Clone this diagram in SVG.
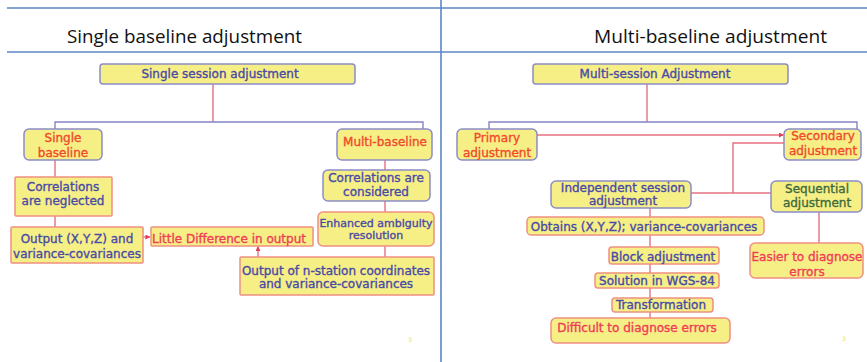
<svg xmlns="http://www.w3.org/2000/svg" width="867" height="362" viewBox="0 0 867 362">
  <defs>
    <marker id="arrow" viewBox="0 0 6 6" refX="5.5" refY="3" markerWidth="5" markerHeight="5" orient="auto" markerUnits="userSpaceOnUse">
      <path d="M0,0 L6,3 L0,6 Z" fill="#e0405a"/>
    </marker>
  </defs>
  <style>
    .rule { stroke: #5b86c4; stroke-width: 1.6; fill: none; }
    .title { font-family: "Open Sans", "Liberation Sans", sans-serif; font-size: 19px; fill: #111; }
    .box { fill: #f6ef86; stroke-width: 1.5; }
    .bb { stroke: #8c8cc8; }
    .rb { stroke: #f09080; }
    .t { font-family: "DejaVu Sans", Verdana, sans-serif; font-size: 12px; text-anchor: middle; stroke-width: 0.35; }
    .blue { fill: #4a4aa6; stroke: #4a4aa6; }
    .red { fill: #f04a2c; stroke: #f04a2c; }
    .pink { fill: #f03c58; stroke: #f03c58; }
    .green { fill: #3c6a3c; stroke: #3c6a3c; }
    .link { stroke: #e67080; stroke-width: 1.4; fill: none; }
    .bus { stroke: #8484c8; stroke-width: 1.4; fill: none; }
    .pg { font-family: "DejaVu Sans", sans-serif; font-size: 6px; fill: #e6df6a; }
  </style>

  <rect width="867" height="362" fill="#ffffff"/>

  <!-- page frame rules -->
  <g id="frame">
    <line class="rule" x1="7" y1="8" x2="867" y2="8"/>
    <line class="rule" x1="7" y1="52" x2="867" y2="52"/>
    <line class="rule" x1="441" y1="0" x2="441" y2="362"/>
  </g>

  <text class="title" x="67" y="42.5" textLength="235" lengthAdjust="spacingAndGlyphs">Single baseline adjustment</text>
  <text class="title" x="594" y="43" textLength="233" lengthAdjust="spacingAndGlyphs">Multi-baseline adjustment</text>

  <!-- connectors -->
  <g id="connectors">
    <!-- left tree -->
    <line class="link" x1="213" y1="84" x2="213" y2="122"/>
    <polyline class="bus" points="55,129 55,122 423,122 423,129"/>
    <line class="link" x1="55" y1="160" x2="55" y2="177"/>
    <line class="link" x1="55" y1="216" x2="55" y2="227"/>
    <line class="link" x1="143" y1="237" x2="150" y2="237" marker-end="url(#arrow)"/>
    <line class="link" x1="385" y1="160" x2="385" y2="170"/>
    <line class="link" x1="385" y1="201" x2="385" y2="212"/>
    <line class="link" x1="385" y1="246" x2="385" y2="257"/>
    <line class="link" x1="258" y1="257" x2="258" y2="246.5" marker-end="url(#arrow)"/>
    <!-- right tree -->
    <line class="link" x1="647" y1="84" x2="647" y2="122"/>
    <polyline class="bus" points="489,129 489,122 857,122 857,129"/>
    <line class="link" x1="537" y1="135" x2="783.5" y2="135" marker-end="url(#arrow)"/>
    <polyline class="link" points="784,143 733,143 733,193"/>
    <line class="link" x1="691" y1="193" x2="771" y2="193"/>
    <line class="link" x1="650" y1="208" x2="650" y2="217"/>
    <line class="link" x1="650" y1="235" x2="650" y2="247"/>
    <line class="link" x1="650" y1="264" x2="650" y2="273"/>
    <line class="link" x1="650" y1="288" x2="650" y2="298"/>
    <line class="link" x1="650" y1="312" x2="650" y2="318"/>
    <line class="link" x1="819" y1="212" x2="819" y2="243"/>
  </g>

  <!-- left diagram nodes -->
  <g id="single-session">
    <rect class="box bb" x="100" y="64" width="255" height="20" rx="3"/>
    <text class="t blue" x="220" y="78">Single session adjustment</text>
  </g>
  <g id="single-baseline">
    <rect class="box bb" x="24" y="129" width="78" height="31" rx="5"/>
    <text class="t red" x="63" y="142">Single</text>
    <text class="t red" x="63" y="157">baseline</text>
  </g>
  <g id="correlations-neglected">
    <rect class="box rb" x="15" y="177" width="97" height="39" rx="1"/>
    <text class="t blue" x="63" y="191">Correlations</text>
    <text class="t blue" x="63" y="205">are neglected</text>
  </g>
  <g id="output-xyz">
    <rect class="box rb" x="11" y="227" width="132" height="36" rx="1"/>
    <text class="t blue" x="77" y="243">Output (X,Y,Z) and</text>
    <text class="t blue" x="77" y="258">variance-covariances</text>
  </g>
  <g id="little-difference">
    <rect class="box rb" x="151" y="227" width="162" height="19" rx="1"/>
    <text class="t pink" x="229" y="243">Little Difference in output</text>
  </g>
  <g id="multi-baseline">
    <rect class="box bb" x="337" y="129" width="95" height="31" rx="5"/>
    <text class="t red" x="385" y="146">Multi-baseline</text>
  </g>
  <g id="correlations-considered">
    <rect class="box bb" x="323" y="170" width="107" height="31" rx="5"/>
    <text class="t blue" x="376" y="182">Correlations are</text>
    <text class="t blue" x="376" y="196">considered</text>
  </g>
  <g id="ambiguity">
    <rect class="box rb" x="318" y="212" width="116" height="34" rx="5"/>
    <text class="t blue" x="376" y="227" style="font-size:11px">Enhanced ambiguity</text>
    <text class="t blue" x="376" y="239" style="font-size:11px">resolution</text>
  </g>
  <g id="n-station">
    <rect class="box rb" x="240" y="257" width="194" height="38" rx="1"/>
    <text class="t blue" x="336" y="275">Output of n-station coordinates</text>
    <text class="t blue" x="336" y="288">and variance-covariances</text>
  </g>
  <text class="pg" x="408" y="342">3</text>

  <!-- right diagram nodes -->
  <g id="multi-session">
    <rect class="box bb" x="533" y="64" width="255" height="20" rx="3"/>
    <text class="t blue" x="655" y="78">Multi-session Adjustment</text>
  </g>
  <g id="primary">
    <rect class="box bb" x="457" y="129" width="80" height="31" rx="5"/>
    <text class="t red" x="497" y="142">Primary</text>
    <text class="t red" x="497" y="157">adjustment</text>
  </g>
  <g id="secondary">
    <rect class="box bb" x="784" y="129" width="77" height="31" rx="5"/>
    <text class="t red" x="823" y="140">Secondary</text>
    <text class="t red" x="823" y="155">adjustment</text>
  </g>
  <g id="independent">
    <rect class="box bb" x="551" y="181" width="140" height="27" rx="5"/>
    <text class="t blue" x="623" y="192">Independent session</text>
    <text class="t blue" x="623" y="205">adjustment</text>
  </g>
  <g id="sequential">
    <rect class="box bb" x="771" y="181" width="91" height="31" rx="5"/>
    <text class="t green" x="817" y="193">Sequential</text>
    <text class="t green" x="817" y="207">adjustment</text>
  </g>
  <g id="obtains">
    <rect class="box rb" x="527" y="217" width="237" height="18" rx="4"/>
    <text class="t blue" x="644" y="231">Obtains (X,Y,Z); variance-covariances</text>
  </g>
  <g id="block">
    <rect class="box rb" x="609" y="247" width="110" height="17" rx="3"/>
    <text class="t blue" x="663" y="261">Block adjustment</text>
  </g>
  <g id="wgs84">
    <rect class="box rb" x="595" y="273" width="124" height="15" rx="3"/>
    <text class="t blue" x="657" y="285">Solution in WGS-84</text>
  </g>
  <g id="transformation">
    <rect class="box rb" x="612" y="298" width="101" height="14" rx="3"/>
    <text class="t blue" x="661" y="309">Transformation</text>
  </g>
  <g id="difficult">
    <rect class="box rb" x="551" y="318" width="179" height="25" rx="5"/>
    <text class="t pink" x="637" y="332">Difficult to diagnose errors</text>
  </g>
  <g id="easier">
    <rect class="box rb" x="750" y="243" width="113" height="35" rx="5"/>
    <text class="t pink" x="807" y="261">Easier to diagnose</text>
    <text class="t pink" x="807" y="276">errors</text>
  </g>
  <text class="pg" x="842" y="341">3</text>
</svg>
